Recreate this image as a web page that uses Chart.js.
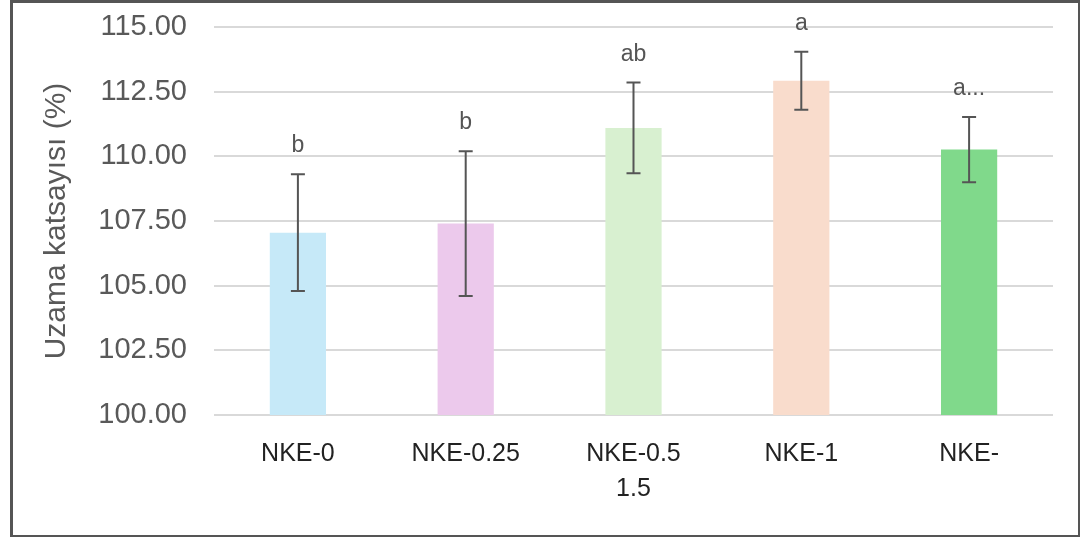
<!DOCTYPE html>
<html lang="tr">
<head>
<meta charset="utf-8">
<title>Uzama katsayısı</title>
<style>
html, body { margin: 0; padding: 0; background: #fff; }
#frame {
    position: absolute; left: 10px; top: 0px;
    width: 1065px; height: 532px;
    border: 3px solid #555;
    overflow: hidden;
}
</style>
</head>
<body>
<div id="frame">
<canvas id="canvas" width="1065" height="532"></canvas>
</div>
<script src="https://cdn.jsdelivr.net/npm/chart.js"></script>
<script>

let LABELS = ["NKE-0", "NKE-0.25", ["NKE-0.5", "1.5"], "NKE-1", "NKE-"]
let MEANS = [107.05, 107.4, 111.1, 112.92, 110.26]
let ERRORS = [2.26, 2.8, 1.75, 1.12, 1.26]
let LETTERS = ["b", "b", "ab", "a", "a..."]
let COLORS = ["#c6e9f8", "#ecc9ec", "#d8f0d0", "#f9dccc", "#80d98b"]

// error bars + letters on top of each bar
let errorBars = {
    id: "errorBars",
    afterDatasetsDraw(chart) {
        let c = chart.ctx
        let y = chart.scales.y
        let meta = chart.getDatasetMeta(0)
        c.save()
        meta.data.forEach((bar, i) => {
            let x = bar.x
            let top = y.getPixelForValue(MEANS[i] + ERRORS[i])
            let bot = y.getPixelForValue(MEANS[i] - ERRORS[i])
            c.strokeStyle = "#555"
            c.lineWidth = 2
            c.beginPath()
            c.moveTo(x, top); c.lineTo(x, bot)
            c.moveTo(x - 7, top); c.lineTo(x + 7, top)
            c.moveTo(x - 7, bot); c.lineTo(x + 7, bot)
            c.stroke()
            c.fillStyle = "#555"
            c.font = "23px 'Liberation Sans', Arial, sans-serif"
            c.textAlign = "center"
            c.textBaseline = "alphabetic"
            c.fillText(LETTERS[i], x, top - 22)
        })
        c.restore()
    }
}

let ctx = document.getElementById("canvas")

new Chart(ctx, {
    type: "bar",
    data: {
        labels: LABELS,
        datasets: [{
            data: MEANS,
            backgroundColor: COLORS,
            barPercentage: 0.335,
            categoryPercentage: 1,
        }]
    },
    options: {
        responsive: false,
        animation: false,
        layout: { padding: { top: 24, right: 25, left: 26 } },
        plugins: {
            legend: { display: false },
            tooltip: { enabled: false },
        },
        scales: {
            x: {
                grid: { display: false },
                border: { display: false },
                ticks: {
                    color: "#222",
                    font: { family: "'Liberation Sans', Arial, sans-serif", size: 25, lineHeight: 1.4 },
                    padding: 14,
                    maxRotation: 0,
                    autoSkip: false,
                },
                afterFit: s => { s.height = 120 },
            },
            y: {
                min: 100,
                max: 115,
                grid: { color: "#d9d9d9", lineWidth: 2, drawTicks: false },
                border: { display: false },
                ticks: {
                    stepSize: 2.5,
                    color: "#595959",
                    padding: 27,
                    font: { family: "'Liberation Sans', Arial, sans-serif", size: 29 },
                    callback: v => v.toFixed(2),
                },
                title: {
                    display: true,
                    text: "Uzama katsayısı (%)",
                    color: "#595959",
                    padding: 0,
                    font: { family: "'Liberation Sans', Arial, sans-serif", size: 30 },
                },
                afterFit: s => {
                    s.width = 175
                    s.paddingTop = 0
                    s.paddingBottom = 0
                },
            }
        }
    },
    plugins: [errorBars],
})

</script>
</body>
</html>
